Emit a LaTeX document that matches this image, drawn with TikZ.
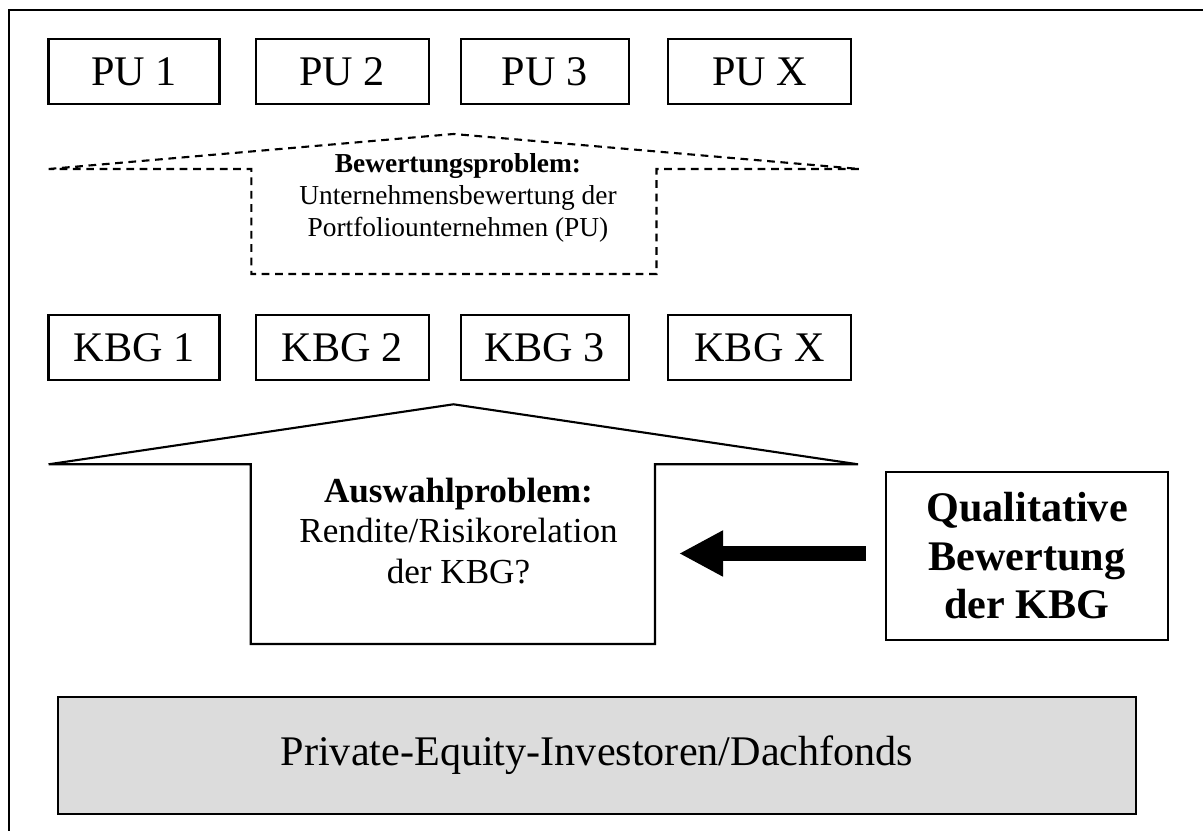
\documentclass[tikz,border=0pt]{standalone}
\usepackage{fontspec}
\setmainfont{Liberation Serif}
\usepackage{tikz}
\usetikzlibrary{arrows.meta,positioning}

\definecolor{boxgray}{gray}{0.863}

\tikzset{
  unitbox/.style={draw,line width=0.6pt,minimum height=0.65cm,inner sep=0pt,font=\fontsize{12}{14}\selectfont},
  housetext/.style={align=center,inner sep=0pt},
  bigarrow/.style={line width=0.15cm,-{Triangle[length=0.44cm,width=0.43cm]}},
}

\begin{document}
\begin{tikzpicture}[line width=0.6pt]
\useasboundingbox (0,0) rectangle (12.03,8.31);

% outer frame (open to the right and below)
\draw (0.09,0) -- (0.09,8.21) -- (12.03,8.21);

% Portfoliounternehmen (top row)
\node[unitbox,minimum width=1.71cm] (pu1) at (1.34,7.595) {PU 1};
\node[unitbox,minimum width=1.73cm] (pu2) at (3.423,7.595) {PU 2};
\node[unitbox,minimum width=1.68cm] (pu3) at (5.446,7.595) {PU 3};
\node[unitbox,minimum width=1.83cm] (pux) at (7.595,7.595) {PU X};

% Bewertungsproblem (dashed)
\draw[dash pattern=on 2.2pt off 1.6pt] (0.486,6.62) -- (4.535,6.97) -- (8.596,6.62)
  -- (6.565,6.62) -- (6.565,5.57) -- (2.514,5.57) -- (2.514,6.62) -- cycle;
\node[housetext,font=\fontsize{7.8}{9}\selectfont] (bewert) at (4.58,6.33)
  {\textbf{Bewertungsproblem:}\\Unternehmensbewertung der\\Portfoliounternehmen (PU)};

% Kapitalbeteiligungsgesellschaften (second row)
\node[unitbox,minimum width=1.71cm,below=2.09cm of pu1] (kbg1) {KBG 1};
\node[unitbox,minimum width=1.73cm,below=2.09cm of pu2] (kbg2) {KBG 2};
\node[unitbox,minimum width=1.68cm,below=2.09cm of pu3] (kbg3) {KBG 3};
\node[unitbox,minimum width=1.83cm,below=2.09cm of pux] (kbgx) {KBG X};

% Auswahlproblem (solid)
\draw (0.486,3.667) -- (4.535,4.267) -- (8.58,3.667) -- (6.55,3.667)
  -- (6.55,1.87) -- (2.507,1.87) -- (2.507,3.667) -- cycle;
\node[housetext,font=\fontsize{10}{11.4}\selectfont] (auswahl) at (4.585,3.0)
  {\textbf{Auswahlproblem:}\\Rendite/Risikorelation\\der KBG?};

% qualitative Bewertung and arrow
\node[draw,minimum width=2.82cm,minimum height=1.68cm,align=center,inner sep=0pt,
  font=\fontsize{12}{13.8}\selectfont\bfseries] (qual) at (10.27,2.75)
  {Qualitative\\Bewertung\\der KBG};
\coordinate (tip) at (6.79,2.775);
\draw[bigarrow,shorten <=0.19cm] (qual.west |- tip) -- (tip);

% Investoren
\node[draw,fill=boxgray,minimum width=10.78cm,minimum height=1.17cm,
  font=\fontsize{12}{14}\selectfont] (invest) at (5.97,0.755)
  {Private-Equity-Investoren/Dachfonds};
\end{tikzpicture}
\end{document}
